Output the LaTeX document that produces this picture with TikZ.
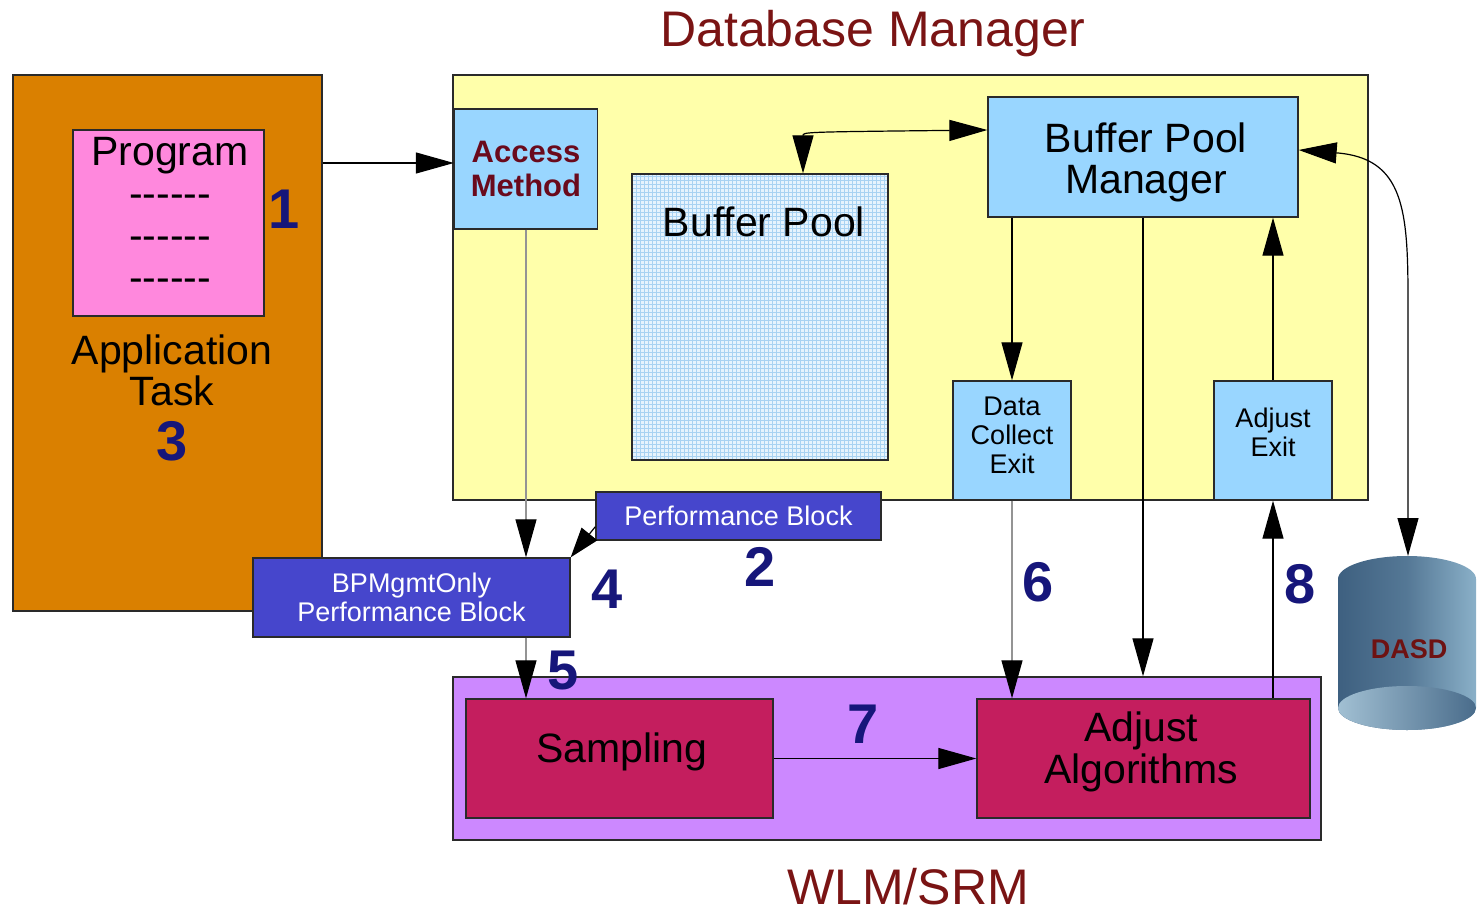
\documentclass[tikz,border=0pt]{standalone}
\usepackage{fontspec}
\setmainfont{Liberation Sans}
\usetikzlibrary{arrows.meta,calc}
\definecolor{orangeT}{HTML}{DA8000}
\definecolor{pinkP}{HTML}{FF88DD}
\definecolor{yellowD}{HTML}{FFFFAA}
\definecolor{lblue}{HTML}{99D6FF}
\definecolor{pblue}{HTML}{4646CC}
\definecolor{purpleW}{HTML}{CC88FF}
\definecolor{crimson}{HTML}{C41E5E}
\definecolor{dred}{HTML}{7A1414}
\definecolor{amred}{HTML}{6A0A1C}
\definecolor{numblue}{HTML}{16167A}
\definecolor{gridline}{HTML}{A8D2F2}
\definecolor{gridbg}{HTML}{E6F3FD}
\definecolor{cylL}{HTML}{3E6080}
\definecolor{cylR}{HTML}{8AB0C8}
\definecolor{bordr}{HTML}{2A2A2A}
\newcommand\myfs[2]{\fontsize{#1}{#2}\selectfont}
\newcommand\dashline{-{}-{}-{}-{}-{}-}
\begin{document}
\begin{tikzpicture}[x=1pt,y=-1pt,
  box/.style={draw=bordr,line width=1.3pt,inner sep=0pt,rectangle},
  lbl/.style={inner sep=0pt,align=center},
  big/.style={lbl,font=\myfs{41}{41}},
  mid/.style={lbl,font=\myfs{27}{29}},
  num/.style={lbl,font=\myfs{56}{56}\bfseries,text=numblue},
  arr/.style={-{Triangle[length=38pt,width=21pt,color=black]},line width=1.2pt},
  darr/.style={{Triangle[length=38pt,width=21pt]}-{Triangle[length=38pt,width=21pt]},line width=1.2pt},
  garr/.style={arr,draw=black!42}]
\useasboundingbox (0,0) rectangle (1480,912);
% titles
\node[lbl,font=\myfs{50}{50},text=dred,anchor=base] (dbm) at (873,47) {Database Manager};
\node[lbl,font=\myfs{50}{50},text=dred,anchor=base] (wlm) at (908,904) {WLM/SRM};
% application task
\node[box,fill=orangeT,minimum width=309pt,minimum height=536pt] (app) at (167.5,343) {};
\node[box,fill=pinkP,minimum width=191pt,minimum height=186pt] (prog) at (168.5,223) {};
\node[big,font=\myfs{41}{42}] (progt) at (170,214) {Program\\\dashline\\\dashline\\\dashline};
\node[big] (appt) at (172,370) {Application\\Task};
% database manager
\node[box,fill=yellowD,minimum width=915pt,minimum height=425pt] (dbbox) at (910.5,287.5) {};
\node[box,fill=lblue,minimum width=143pt,minimum height=120pt,font=\myfs{31}{34}\bfseries,text=amred,align=center] (acc) at (526,169) {Access\\Method};
\node[box,fill=gridbg,minimum width=256pt,minimum height=286pt] (bp) at (760,317) {};
\draw[gridline,line width=0.5pt,step=4pt] (633,175) grid (887,459);
\draw[bordr,line width=1.3pt] (bp.north west) rectangle (bp.south east);
\node[big] (bpt) at (764,222) {Buffer Pool};
\node[box,fill=lblue,minimum width=310pt,minimum height=120pt] (bpm) at (1143,157) {};
\node[big] (bpmt) at (1146,162) {Buffer Pool\\Manager};
\node[box,fill=lblue,minimum width=118pt,minimum height=119pt] (dce) at (1012,440.5) {};
\node[mid] (dcet) at (1012,435) {Data\\Collect\\Exit};
\node[box,fill=lblue,minimum width=118pt,minimum height=119pt] (aex) at (1273,440.5) {};
\node[mid] (aext) at (1273,432) {Adjust\\Exit};
% performance blocks
\node[box,fill=pblue,minimum width=285pt,minimum height=48pt,text=white,font=\myfs{27}{29}] (perf) at (738.5,516) {Performance Block};
\node[box,fill=pblue,minimum width=317pt,minimum height=79pt,text=white,font=\myfs{27}{29},align=center] (bpmg) at (411.5,597.5) {BPMgmtOnly\\Performance Block};
% WLM/SRM
\node[box,fill=purpleW,minimum width=868pt,minimum height=163pt] (wbox) at (887,758.5) {};
\node[box,fill=crimson,minimum width=307pt,minimum height=119pt] (samp) at (619.5,758.5) {};
\node[big] (sampt) at (622,752) {Sampling};
\node[box,fill=crimson,minimum width=333pt,minimum height=119pt] (adj) at (1143.5,758.5) {};
\node[big,font=\myfs{41}{42}] (adjt) at (1141,752) {Adjust\\Algorithms};
% numbers
\node[num] (n1) at (284,209) {1};
\node[num] (n3) at (172,441) {3};
\node[num] (n2) at (760,567) {2};
\node[num] (n4) at (607,589) {4};
\node[num] (n5) at (563,671) {5};
\node[num] (n6) at (1038,582) {6};
\node[num] (n7) at (863,724) {7};
\node[num] (n8) at (1300,584) {8};
% DASD cylinder
\shade[left color=cylL,right color=cylR,middle color=cylL!70!cylR]
  (1338,579) arc[start angle=180,end angle=360,x radius=69,y radius=23]
  -- (1476,708) arc[start angle=0,end angle=180,x radius=69,y radius=22] -- cycle;
\shade[left color=cylR!80!white,right color=cylL!85!cylR]
  (1407,708) ellipse[x radius=69,y radius=22];
\coordinate (dasdtop) at (1408,556);
\node[lbl,font=\myfs{27}{29}\bfseries,text=dred!90!black] (dasd) at (1409,649) {DASD};
% connectors
\draw[arr] (app.east |- 0,163) -- ([yshift=6pt]acc.west);
\draw[garr] (acc.south) -- (acc.south |- bpmg.north);
\draw[garr] (acc.south |- bpmg.south) -- (acc.south |- samp.north);
\draw[line width=1.2pt,-{Triangle[length=30pt,width=20pt]}] ([yshift=14pt]perf.south west) -- (bpmg.north east);
\draw[darr] (bp.north -| 803,0) .. controls (803,132) .. ([yshift=27pt]bpm.west);
\draw[darr] ([yshift=7pt]bpm.east) .. controls (1404,158) and (1408,210) .. (1408,300) -- (dasdtop);
\draw[arr] (dce.north |- bpm.south) -- (dce.north);
\draw[arr] (bpm.south) -- (bpm.south |- wbox.north);
\draw[garr] (dce.south) -- (dce.south |- adj.north);
\draw[arr] (aex.south |- adj.north) -- (aex.south);
\draw[arr] (aex.north) -- (aex.north |- bpm.south);
\draw[arr] (samp.east) -- (adj.west);
\end{tikzpicture}
\end{document}
